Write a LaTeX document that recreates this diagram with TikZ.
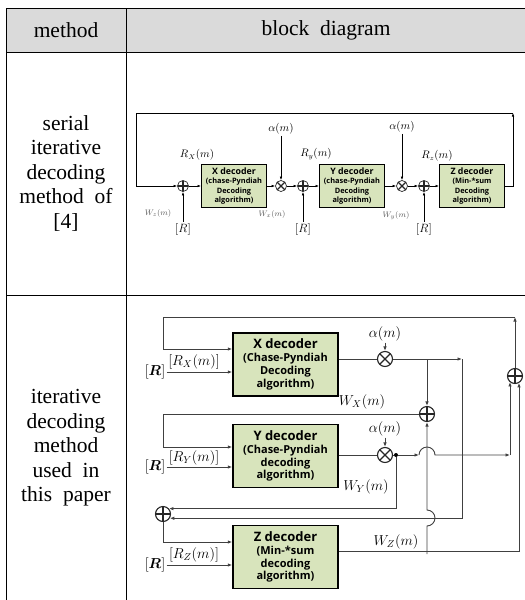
\documentclass[tikz,border=0pt]{standalone}
\usepackage{fontspec}
\usepackage{amsmath}
\setmainfont{Liberation Serif}
\setsansfont{Open Sans}
\usetikzlibrary{arrows.meta}
\definecolor{decgreen}{RGB}{216,228,188}
\definecolor{headgray}{RGB}{218,218,218}
\def\rowfont{\fontsize{21.5}{24.5}\selectfont}

\begin{document}
\begin{tikzpicture}[x=1pt,y=-1pt,>={Latex[length=4.5pt,width=3.5pt]}]
    \tikzstyle{cell}=[font=\rowfont,align=center,inner sep=0pt]
    \tikzstyle{decoder}=[draw=black,fill=decgreen,inner sep=0pt,align=center]
    \tikzstyle{small decoder}=[decoder,line width=1pt,minimum width=65pt,minimum height=43pt,font=\sffamily\bfseries\fontsize{7.4}{9.5}\selectfont]
    \tikzstyle{big decoder}=[decoder,line width=1.5pt,minimum width=105pt,minimum height=63pt,font=\sffamily\bfseries\fontsize{11}{12.8}\selectfont]
    \tikzstyle{adder}=[circle,draw=black!85,line width=1.1pt,minimum size=15pt,inner sep=0pt,
        path picture={\draw[line width=1.1pt] (path picture bounding box.north) -- (path picture bounding box.south)
            (path picture bounding box.west) -- (path picture bounding box.east);}]
    \tikzstyle{mixer}=[circle,draw=black!85,line width=1.1pt,minimum size=15pt,inner sep=0pt,
        path picture={\draw[line width=1.1pt] (path picture bounding box.north west) -- (path picture bounding box.south east)
            (path picture bounding box.south west) -- (path picture bounding box.north east);}]
    \tikzstyle{adder1}=[adder,minimum size=11pt,line width=0.7pt]
    \tikzstyle{mixer1}=[mixer,minimum size=11pt,line width=0.7pt]
    \tikzstyle{lab}=[font=\fontsize{14}{16}\selectfont,inner sep=1pt]
    \tikzstyle{lab1}=[font=\fontsize{10.5}{12}\selectfont,inner sep=1pt]
    \tikzstyle{wlab1}=[font=\fontsize{8}{9}\selectfont,text=black!65,inner sep=1pt]
    \tikzstyle{dot}=[circle,fill=black,minimum size=4pt,inner sep=0pt]

    \useasboundingbox (0,0) rectangle (525,600);

    % Draw the table
    \fill[headgray] (6,8) rectangle (525,52);
    \draw[line width=0.9pt] (6,8) -- (525,8);
    \draw[line width=0.8pt] (6,52) -- (525,52) (6,295) -- (525,295) (6,8) -- (6,600) (126,8) -- (126,600);
    \node[cell] (head1) at (66,30) {method};
    \node[cell] (head2) at (326,30) {block~ diagram};
    \node[cell] (row1) at (66,173) {serial\\iterative\\decoding\\method~ of\\{}[4]};
    \node[cell] (row2) at (66,448) {iterative\\decoding\\method\\used~ in\\this~ paper};

    % Serial decoding: decoders, adders and mixers
    \begin{scope}[line width=0.6pt,>={Latex[length=3.5pt,width=2.6pt]}]
    \node[small decoder] (xdec1) at (234,186) {{\fontsize{8.8}{9.5}\selectfont X decoder}\\(chase-Pyndiah\\Decoding\\algorithm)};
    \node[small decoder] (ydec1) at (352,186) {{\fontsize{8.8}{9.5}\selectfont Y decoder}\\(chase-Pyndiah\\Decoding\\algorithm)};
    \node[small decoder] (zdec1) at (472,186) {{\fontsize{8.8}{9.5}\selectfont Z decoder}\\(Min-*sum\\Decoding\\algorithm)};

    \foreach \name/\x in {X/183,Y/303,Z/424} {
        \node[lab1,font=\fontsize{12}{13}\selectfont] (r\name1) at (\x,229) {$[R]$};
        \node[adder1] (sum\name1) at (\x,186) {};
        \draw[->] (r\name1) -- (sum\name1);
    }
    \foreach \name/\x/\y in {X/281/129,Y/402/127} {
        \node[mixer1] (mul\name1) at (\x,186) {};
        \node[lab1] (alpha\name1) at (\x,\y) {$\alpha(m)$};
        \draw[->] (alpha\name1) -- (mul\name1);
    }

    % Connect the chain
    \foreach \a/\b in {sumX1/xdec1,xdec1/mulX1,mulX1/sumY1,sumY1/ydec1,ydec1/mulY1,mulY1/sumZ1,sumZ1/zdec1}
        \draw[->] (\a) -- (\b);

    % Feedback from Z to X
    \coordinate (fbR) at (513,186);
    \coordinate (fbT) at (513,113);
    \coordinate (fbL) at (136,113);
    \draw[->] (zdec1) -- (fbR) -- (fbT);
    \draw[->] (fbT) -- (fbL) -- (fbL |- sumX1) -- (sumX1);

    % Annotate the signals
    \node[lab1] (rx1) at (197,155) {$R_X(m)$};
    \node[lab1] (ry1) at (316,154) {$R_y(m)$};
    \node[lab1] (rz1) at (437,156) {$R_z(m)$};
    \node[wlab1] (wz1) at (158,213) {$W_z(m)$};
    \node[wlab1] (wx1) at (272,214) {$W_x(m)$};
    \node[wlab1] (wy1) at (396,216) {$W_y(m)$};
    \end{scope}

    % Proposed decoding: decoders
    \begin{scope}[draw=black!75,line width=0.9pt]
    \node[big decoder] (xdec2) at (285.5,364.5) {{\fontsize{13}{14}\selectfont X decoder}\\(Chase-Pyndiah\\Decoding\\algorithm)};
    \node[big decoder] (ydec2) at (285.5,456) {{\fontsize{13}{14}\selectfont Y decoder}\\(Chase-Pyndiah\\decoding\\algorithm)};
    \node[big decoder] (zdec2) at (285.5,557) {{\fontsize{13}{14}\selectfont Z decoder}\\(Min-*sum\\decoding\\algorithm)};

    % Inputs from the channel
    \foreach \d/\name/\y/\ly in {x/X/372/362,y/Y/467/458,z/Z/565/555} {
        \node[lab] (r\name2) at (155,\y) {$[\boldsymbol{R}]$};
        \node[lab] (rl\name2) at (194,\ly) {$[R_{\name}(m)]$};
        \draw[->] (r\name2) -- (r\name2 -| \d dec2.west);
    }

    % Adders and mixers
    \node[adder] (sumO) at (515,376) {};
    \node[adder] (sumY2) at (427,414) {};
    \node[adder] (sumZ2) at (163,514) {};
    \node[mixer] (mulX2) at (385,359) {};
    \node[mixer] (mulY2) at (385,455) {};
    \node[dot] (dotY) at (396,455) {};
    \node[lab] (alphaX2) at (385,334) {$\alpha(m)$};
    \node[lab] (alphaY2) at (385,429) {$\alpha(m)$};
    \draw[->] (alphaX2) -- (mulX2);
    \draw[->] (alphaY2) -- (mulY2);

    % Loops into the decoders
    \coordinate (loopX) at (163,317);
    \coordinate (loopXb) at (163,349);
    \coordinate (loopY) at (163,414);
    \coordinate (loopYb) at (163,447);
    \coordinate (loopZb) at (163,542);
    \draw[->] (sumO) -- (sumO |- loopX);
    \draw[->] (sumO |- loopX) -- (loopX) -- (loopXb) -- (loopXb -| xdec2.west);
    \draw[->] (sumY2) -- (loopY) -- (loopYb) -- (loopYb -| ydec2.west);
    \draw[->] (sumZ2) -- (loopZb) -- (loopZb -| zdec2.west);

    % X decoder output
    \coordinate (cX) at (462,359);
    \draw (xdec2.east |- mulX2) -- (mulX2);
    \draw[->] (mulX2) -- (cX);
    \draw[->] (cX) -- (cX |- sumZ2.-32) -- (sumZ2.-32);
    \draw[->] (sumY2 |- mulX2) -- (sumY2);

    % Y decoder output
    \coordinate (hopL) at (419,455);
    \coordinate (cY) at (510,455);
    \draw (ydec2.east |- mulY2) -- (mulY2) -- (dotY);
    \draw[->] (dotY) -- (hopL);
    \draw[->] (hopL) arc[start angle=180,end angle=360,radius=8] -- (cY);
    \draw[->] (cY) -- (cY |- sumO.228);
    \draw[->] (dotY) -- (dotY |- sumZ2.42) -- (sumZ2.42);

    % Z decoder output
    \coordinate (wzR) at (519,551);
    \coordinate (wzB) at (427,554);
    \coordinate (hopV) at (427,526);
    \draw[->] (zdec2.east |- wzR) -- (wzR) -- (wzR |- sumO.-58);
    \draw[->] (wzB) -- (hopV) arc[start angle=90,end angle=-90,radius=8] -- (sumY2);

    % Annotate the extrinsic values
    \node[lab] (wX) at (362,402) {$W_X(m)$};
    \node[lab] (wY) at (366,487) {$W_Y(m)$};
    \node[lab] (wZ) at (396,542) {$W_Z(m)$};
    \end{scope}
\end{tikzpicture}
\end{document}
